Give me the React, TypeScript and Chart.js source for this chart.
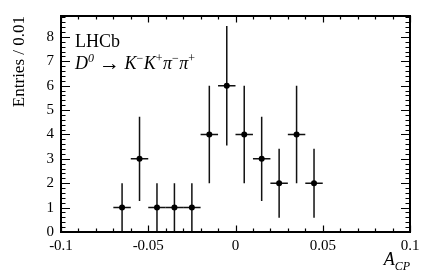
import React, { useEffect, useRef } from 'react';
import { Chart, registerables } from 'chart.js';

Chart.register(...registerables);

// ---- data ----
const binCenters = [-0.065, -0.055, -0.045, -0.035, -0.025, -0.015, -0.005, 0.005, 0.015, 0.025, 0.035, 0.045];
const entries = [1, 3, 1, 1, 1, 4, 6, 4, 3, 2, 4, 2];
const errors = [1, 1.732, 1, 1, 1, 2, 2.449, 2, 1.732, 1.414, 2, 1.414];
const binHalfWidth = 0.005;
const xMin = -0.1;
const xMax = 0.1;
const yMin = 0;
const yMax = 8.86;
const xLabelStep = 0.05;
const yLabelStep = 1;
const yTitle = 'Entries / 0.01';
const expLabel = 'LHCb';

const SERIF = "'Liberation Serif', 'DejaVu Serif', serif";

type Seg = { t: string; it?: boolean; sup?: boolean; size?: number; dy?: number };
const decaySegs: Seg[] = [
  { t: 'D', it: true },
  { t: '0', it: true, sup: true },
  { t: ' ' },
  { t: '\u2192', size: 21, dy: 0.5 },
  { t: ' ' },
  { t: 'K', it: true },
  { t: '\u2212', sup: true },
  { t: 'K', it: true },
  { t: '+', sup: true },
  { t: '\u03c0', it: true },
  { t: '\u2212', sup: true },
  { t: '\u03c0', it: true },
  { t: '+', sup: true },
];

const hepPlugin = {
  id: 'hep',
  beforeDatasetsDraw(chart: any) {
    const ctx = chart.ctx;
    const xs = chart.scales.x;
    const ys = chart.scales.y;
    ctx.save();
    ctx.strokeStyle = '#111';
    ctx.lineWidth = 1.5;
    for (let i = 0; i < binCenters.length; i++) {
      const px = xs.getPixelForValue(binCenters[i]);
      const py = ys.getPixelForValue(entries[i]);
      ctx.beginPath();
      ctx.moveTo(px, ys.getPixelForValue(Math.max(0, entries[i] - errors[i])));
      ctx.lineTo(px, ys.getPixelForValue(entries[i] + errors[i]));
      ctx.moveTo(xs.getPixelForValue(binCenters[i] - binHalfWidth), py);
      ctx.lineTo(xs.getPixelForValue(binCenters[i] + binHalfWidth), py);
      ctx.stroke();
    }
    ctx.restore();
  },
  afterDraw(chart: any) {
    const ctx = chart.ctx;
    const { left, right, top, bottom } = chart.chartArea;
    const xs = chart.scales.x;
    const ys = chart.scales.y;
    ctx.save();
    ctx.strokeStyle = '#000';
    ctx.lineWidth = 1.2;
    ctx.beginPath();
    for (let i = -10; i <= 10; i++) {
      const v = i / 100;
      const px = Math.round(xs.getPixelForValue(v)) + 0.5;
      const len = i % 5 === 0 ? 6.5 : 3.5;
      ctx.moveTo(px, bottom);
      ctx.lineTo(px, bottom - len);
      ctx.moveTo(px, top);
      ctx.lineTo(px, top + len);
    }
    for (let k = 0; k * 0.2 <= yMax + 1e-9; k++) {
      const v = k * 0.2;
      const py = Math.round(ys.getPixelForValue(v)) + 0.5;
      const len = k % 5 === 0 ? 9 : 4.5;
      ctx.moveTo(left, py);
      ctx.lineTo(left + len, py);
      ctx.moveTo(right, py);
      ctx.lineTo(right - len, py);
    }
    ctx.stroke();
    ctx.lineWidth = 2;
    ctx.strokeRect(left, top, right - left, bottom - top);

    ctx.fillStyle = '#000';
    ctx.textBaseline = 'alphabetic';
    ctx.textAlign = 'left';
    ctx.font = `18px ${SERIF}`;
    ctx.fillText(expLabel, left + 14, top + 31);

    let x = left + 14;
    const base = top + 53;
    for (const s of decaySegs) {
      const size = s.size ?? (s.sup ? 12 : 18);
      ctx.font = `${s.it ? 'italic ' : ''}${size}px ${SERIF}`;
      const y = (s.sup ? base - 7.5 : base) + (s.dy ?? 0);
      ctx.fillText(s.t, x, y);
      x += ctx.measureText(s.t).width + (s.sup ? 0.5 : 0);
    }

    ctx.font = `italic 12px ${SERIF}`;
    const wSub = ctx.measureText('CP').width;
    ctx.font = `italic 18px ${SERIF}`;
    const wA = ctx.measureText('A').width;
    const xStart = right - wSub - wA;
    ctx.fillText('A', xStart, bottom + 33);
    ctx.font = `italic 12px ${SERIF}`;
    ctx.fillText('CP', xStart + wA, bottom + 38);
    ctx.restore();
  },
};

export default function App() {
  const ref = useRef<HTMLCanvasElement>(null);
  useEffect(() => {
    const chart = new Chart(ref.current as HTMLCanvasElement, {
      type: 'scatter',
      data: {
        datasets: [
          {
            data: binCenters.map((x, i) => ({ x, y: entries[i] })),
            pointRadius: 3,
            pointBackgroundColor: '#000',
            pointBorderWidth: 0,
            showLine: false,
          },
        ],
      },
      options: {
        animation: false,
        responsive: true,
        maintainAspectRatio: false,
        layout: { padding: { top: 14, right: 22, left: 0, bottom: 0 } },
        plugins: { legend: { display: false }, tooltip: { enabled: false } },
        scales: {
          x: {
            type: 'linear',
            min: xMin,
            max: xMax,
            grid: { display: false, drawTicks: false },
            border: { display: false },
            afterFit: (s: any) => {
              s.height = 45;
            },
            ticks: {
              stepSize: xLabelStep,
              includeBounds: false,
              autoSkip: false,
              maxRotation: 0,
              padding: 5,
              color: '#000',
              font: { family: SERIF, size: 15 },
              callback: (v: any) => String(Math.round(Number(v) * 100) / 100),
            },
          },
          y: {
            type: 'linear',
            min: yMin,
            max: yMax,
            grid: { display: false, drawTicks: false },
            border: { display: false },
            afterFit: (s: any) => {
              s.width = 61;
            },
            title: {
              display: true,
              text: yTitle,
              align: 'end',
              color: '#000',
              font: { family: SERIF, size: 17 },
              padding: { top: 9, bottom: 0 },
            },
            ticks: {
              stepSize: yLabelStep,
              includeBounds: false,
              autoSkip: false,
              padding: 7,
              color: '#000',
              font: { family: SERIF, size: 15 },
              callback: (v: any) => (Number.isInteger(Number(v)) ? String(v) : ''),
            },
          },
        },
      },
      plugins: [hepPlugin],
    } as any);
    return () => {
      chart.destroy();
    };
  }, []);
  return (
    <div style={{ position: 'absolute', left: 0, top: 0, width: 432, height: 277, background: '#fff' }}>
      <canvas ref={ref} />
    </div>
  );
}
